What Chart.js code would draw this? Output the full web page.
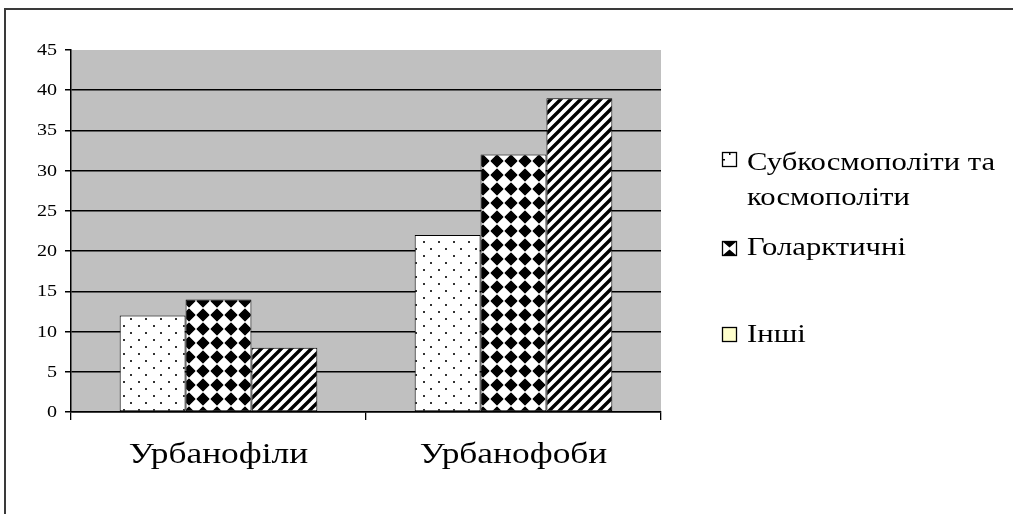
<!DOCTYPE html>
<html>
<head>
<meta charset="utf-8">
<script src="https://cdn.jsdelivr.net/npm/chart.js@4/dist/chart.umd.min.js"></script>
<style>
  html, body { margin: 0; padding: 0; background: #fff; }
  #wrap { width: 1013px; height: 514px; }
</style>
</head>
<body>
<div id="wrap"><canvas id="c" width="1013" height="514"></canvas></div>
<script>
// Categories and series values
const categories = ['Урбанофіли', 'Урбанофоби'];
const seriesNames = ['Субкосмополіти та космополіти', 'Голарктичні', 'Інші'];
const legendLines = [['Субкосмополіти та', 'космополіти'], ['Голарктичні'], ['Інші']];
const subcosmopolitan = [12, 22];
const holarctic = [14, 32];
const others = [8, 39];
const yTickValues = [0, 5, 10, 15, 20, 25, 30, 35, 40, 45];

const SERIF = '"Liberation Serif", "Times New Roman", serif';
const TEXT_STRETCH = 1.18; // text in this chart is set slightly wide

// Fill patterns for the bars
function makeTile(w, h, draw) {
  const cv = document.createElement('canvas');
  cv.width = w; cv.height = h;
  const g = cv.getContext('2d');
  g.fillStyle = '#fff';
  g.fillRect(0, 0, w, h);
  draw(g, w, h);
  return document.getElementById('c').getContext('2d').createPattern(cv, 'repeat');
}

const dotsPattern = makeTile(15, 14, (g) => {
  g.fillStyle = '#333';
  g.fillRect(3, 3, 2, 2);
  g.fillRect(10, 10, 2, 2);
});

const diamondPattern = makeTile(14, 14, (g) => {
  g.fillStyle = '#000';
  g.beginPath();
  g.moveTo(7, 1.2); g.lineTo(12.8, 7); g.lineTo(7, 12.8); g.lineTo(1.2, 7);
  g.closePath();
  g.fill();
  g.lineJoin = 'round';
  g.lineWidth = 1.2;
  g.strokeStyle = '#000';
  g.stroke();
});

const stripePattern = makeTile(10, 10, (g) => {
  g.strokeStyle = '#000';
  g.lineWidth = 3.4;
  g.beginPath();
  g.moveTo(-2, 12); g.lineTo(12, -2);
  g.moveTo(-7, 7); g.lineTo(7, -7);
  g.moveTo(3, 17); g.lineTo(17, 3);
  g.stroke();
});

function wideText(ctx, text, x, y, align, baseline) {
  ctx.save();
  ctx.translate(x, y);
  ctx.scale(TEXT_STRETCH, 1);
  ctx.textAlign = align;
  ctx.textBaseline = baseline;
  ctx.fillText(text, 0, 0);
  ctx.restore();
}

// Grey plot background and the outer frame
const backdrop = {
  id: 'backdrop',
  beforeDraw(chart) {
    const { ctx, chartArea: a } = chart;
    ctx.save();
    ctx.fillStyle = '#fff';
    ctx.fillRect(0, 0, chart.width, chart.height);
    ctx.fillStyle = '#c0c0c0';
    ctx.fillRect(a.left, a.top, a.right - a.left, a.bottom - a.top);
    ctx.strokeStyle = '#3a3a3a';
    ctx.lineWidth = 2;
    ctx.strokeRect(5, 9, 1100, 600);
    ctx.restore();
  }
};

// Axis labels, placed from the chart's own scales
const axisLabels = {
  id: 'axisLabels',
  afterDraw(chart) {
    const { ctx } = chart;
    const xs = chart.scales.x, ys = chart.scales.y;
    ctx.save();
    ctx.fillStyle = '#000';
    ctx.font = '17px ' + SERIF;
    ys.ticks.forEach(t => {
      wideText(ctx, String(t.value), 57, ys.getPixelForValue(t.value) + 0.5, 'right', 'middle');
    });
    ctx.font = '30px ' + SERIF;
    categories.forEach((c, i) => {
      wideText(ctx, c, xs.getPixelForValue(i), 463, 'center', 'alphabetic');
    });
    ctx.restore();
  }
};

// Legend at the right with its own markers
const sideLegend = {
  id: 'sideLegend',
  afterDraw(chart) {
    const { ctx } = chart;
    ctx.save();
    const boxX = 722, size = 14;
    const rows = [
      { box: 152, baselines: [170, 205] },
      { box: 241, baselines: [255] },
      { box: 327, baselines: [342] }
    ];
    rows.forEach((r, i) => {
      const x = boxX + 0.5, y = r.box + 0.5;
      ctx.fillStyle = i === 2 ? '#ffffcc' : '#fff';
      ctx.fillRect(x, y, size, size);
      ctx.fillStyle = '#000';
      if (i === 0) {
        ctx.fillRect(x + 6.5, y, 1.5, 2.5);
        ctx.fillRect(x, y + 6.5, 2.5, 1.5);
      } else if (i === 1) {
        ctx.beginPath();
        ctx.moveTo(x, y); ctx.lineTo(x + size, y); ctx.lineTo(x + size / 2, y + size / 2 - 1);
        ctx.closePath();
        ctx.moveTo(x, y + size); ctx.lineTo(x + size, y + size); ctx.lineTo(x + size / 2, y + size / 2 + 1);
        ctx.closePath();
        ctx.fill();
      }
      ctx.strokeStyle = '#000';
      ctx.lineWidth = 1.3;
      ctx.strokeRect(x, y, size, size);

      ctx.fillStyle = '#000';
      ctx.font = '26px ' + SERIF;
      legendLines[i].forEach((line, k) => {
        wideText(ctx, line, 747, r.baselines[k], 'left', 'alphabetic');
      });
    });
    ctx.restore();
  }
};

new Chart(document.getElementById('c'), {
  type: 'bar',
  data: {
    labels: categories,
    datasets: [
      { label: seriesNames[0], data: subcosmopolitan, backgroundColor: dotsPattern },
      { label: seriesNames[1], data: holarctic, backgroundColor: diamondPattern },
      { label: seriesNames[2], data: others, backgroundColor: stripePattern }
    ].map(d => Object.assign(d, {
      borderColor: '#000',
      borderWidth: 1,
      borderSkipped: false,
      categoryPercentage: 0.67,
      barPercentage: 1
    }))
  },
  options: {
    responsive: false,
    animation: false,
    layout: { padding: { left: 0, top: 50, right: 352, bottom: 0 } },
    plugins: { legend: { display: false }, tooltip: { enabled: false } },
    scales: {
      x: {
        offset: true,
        grid: {
          offset: true,
          drawOnChartArea: false,
          color: '#000',
          lineWidth: 1.3,
          tickLength: 8
        },
        border: { display: true, color: '#000', width: 1.5 },
        ticks: { display: false },
        afterFit(scale) { scale.height = 102; }
      },
      y: {
        min: 0,
        max: 45,
        afterBuildTicks(scale) { scale.ticks = yTickValues.map(v => ({ value: v })); },
        grid: {
          color: (c) => (c.tick && c.tick.value === 45 ? 'rgba(0,0,0,0)' : '#000'),
          tickColor: '#000',
          lineWidth: 1.5,
          tickLength: 6
        },
        border: { display: true, color: '#000', width: 1.5 },
        ticks: { display: false },
        afterFit(scale) { scale.width = 71; }
      }
    }
  },
  plugins: [backdrop, axisLabels, sideLegend]
});
</script>
</body>
</html>
